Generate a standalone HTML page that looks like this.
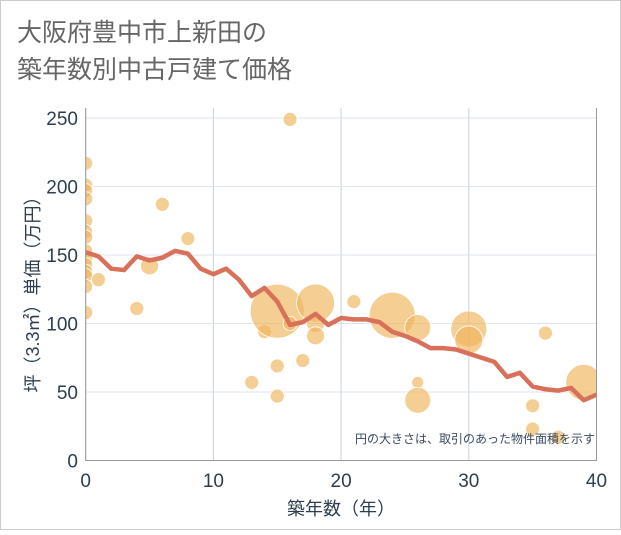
<!DOCTYPE html>
<html><head><meta charset="utf-8"><style>
body{margin:0;background:#fff}
svg text{font-family:"Liberation Sans","Noto Sans CJK JP",sans-serif}
</style></head><body>
<svg width="621" height="530" xmlns="http://www.w3.org/2000/svg">
<defs><clipPath id="plotclip"><rect x="85.7" y="100" width="511" height="360.5"/></clipPath></defs>
<rect x="0.5" y="0.5" width="620" height="529" fill="#fff" stroke="#ccc"/>
<text x="17" y="41" font-size="25" fill="#666">大阪府豊中市上新田の</text>
<text x="17" y="78" font-size="25" fill="#666">築年数別中古戸建て価格</text>
<g id="grid"></g>
<g id="bubbles" clip-path="url(#plotclip)"></g>
<g id="line"></g>
<g id="axes"></g>
<text x="595" y="443" font-size="12" fill="#3a4a5e" text-anchor="end">円の大きさは、取引のあった物件面積を示す</text>
<text x="341" y="515" font-size="18" fill="#2c3e50" text-anchor="middle">築年数（年）</text>
<text transform="translate(39,290) rotate(-90)" font-size="18" fill="#2c3e50" text-anchor="middle">坪（3.3㎡）単価（万円）</text>
</svg>
<script>
const xTicks=[0,10,20,30,40];
const yTicks=[0,50,100,150,200,250];
const lineYears=[0,1,2,3,4,5,6,7,8,9,10,11,12,13,14,15,16,17,18,19,20,21,22,23,24,25,26,27,28,29,30,31,32,33,34,35,36,37,38,39,40];
const lineValues=[152,149,140,139,149,146,148,153,151,140,136,140,132,120,126,116,99,101,107,99,104,103,103,101,94,91,87,82,82,81,78,75,72,61,64,54,52,51,53,44,48];
const bubbleX=[0,0,0,0,0,0,0,0,0,0,0,0,0,0,1,4,5,6,8,13,14,15,15,15,16,16,17,18,18,18,21,24,26,26,26,30,30,36,35,35,37,39];
const bubbleY=[217,201,197,191,175,167,163,153,147,143,138,135,127,108,132,111,142,187,162,57,94,109,69,47,249,100,73,115,100,91,116,106,97,57,44,96,88,93,40,23,17,57];
const bubbleR=[7,7,7,7,7,7,7,7,7,7,7,7,7,7,7,7,9,7,7,7,7,27,7,7,7,7,7,19,9,9,7,23,13,6,13,18,14,7,7,7,7,18];
const NS="http://www.w3.org/2000/svg";
const X=v=>85.7+v*12.77, Y=v=>460.5-v*1.37;
function mk(p,t,a){const e=document.createElementNS(NS,t);for(const k in a)e.setAttribute(k,a[k]);p.appendChild(e);return e;}
const grid=document.getElementById('grid'),axes=document.getElementById('axes');
xTicks.forEach(t=>{const l=mk(grid,'line',{x1:X(t),x2:X(t),y1:108,y2:460.5,stroke:'#c8d2de'});


const tx=mk(axes,'text',{x:X(t),y:487,'font-size':19,fill:'#2c3e50','text-anchor':'middle'});tx.textContent=t;

});
yTicks.forEach(t=>{const l=mk(grid,'line',{x1:85.7,x2:596.5,y1:Y(t),y2:Y(t),stroke:'#dde4ee'});


const tx=mk(axes,'text',{x:78,y:Y(t)+7,'font-size':19,fill:'#2c3e50','text-anchor':'end'});tx.textContent=t;

});
mk(axes,'path',{d:'M85.7 108 V460.5 H596.5 V108',fill:'none',stroke:'#999'});
const bg=document.getElementById('bubbles');
bubbleX.forEach((x,i)=>{const c=mk(bg,'circle',{cx:X(x),cy:Y(bubbleY[i]),r:bubbleR[i],fill:'rgba(240,180,90,0.65)',stroke:'#fff','stroke-width':0.8});

});
const pl=mk(document.getElementById('line'),'polyline',{points:lineYears.map((y,i)=>X(y)+','+Y(lineValues[i])).join(' '),fill:'none',stroke:'#d8705a','stroke-width':4.5,'stroke-linejoin':'round'});


</script>
</body></html>
